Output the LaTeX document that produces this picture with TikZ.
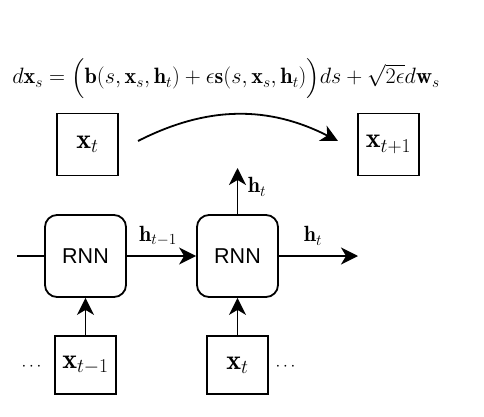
\documentclass[tikz,border=0pt]{standalone}
\usepackage{fix-cm}
\usepackage{amsmath,amssymb}
\usepackage{fontspec}
\newfontfamily\rnnfont{Liberation Sans}
\usetikzlibrary{arrows.meta,calc}
\begin{document}
\begin{tikzpicture}[x=1pt,y=-1pt,
  line width=1.8pt,
  sq/.style={draw,minimum width=61pt,minimum height=62pt,inner sep=0pt,font=\fontsize{28}{33}\selectfont},
  rnn/.style={draw,rounded corners=12pt,minimum width=81pt,minimum height=82pt,inner sep=0pt,font=\rnnfont\fontsize{21.5}{25}\selectfont},
  arr/.style={-{Stealth[length=17pt,width=17pt,inset=5pt]}},
  lab/.style={font=\fontsize{22}{26}\selectfont,inner sep=0pt},
  dots/.style={font=\fontsize{17}{20}\selectfont,inner sep=0pt}]
\useasboundingbox (0,0) rectangle (484,417);
\node[inner sep=0pt,anchor=base,font=\fontsize{22.2}{27}\selectfont] (eq) at (226,84)
  {$d\mathbf{x}_s = \Big(\mathbf{b}(s,\mathbf{x}_s,\mathbf{h}_t)+\epsilon\mathbf{s}(s,\mathbf{x}_s,\mathbf{h}_t)\Big)ds+\sqrt{2\epsilon}d\mathbf{w}_s$};
\node[sq] (xt) at (87.5,144.5) {$\mathbf{x}_t$};
\node[sq] (xtp) at (388.5,144.5) {$\mathbf{x}_{t+1}$};
\node[rnn] (r1) at (85.5,256) {RNN};
\node[rnn] (r2) at (237.5,256) {RNN};
\node[sq,minimum height=58pt] (xb1) at (85.5,365) {$\mathbf{x}_{t-1}$};
\node[sq,minimum height=58pt] (xb2) at (237.5,365) {$\mathbf{x}_t$};
\coordinate (a1) at (138,141);
\coordinate (a2) at (338,141);
\coordinate (hup) at (237.5,168);
\coordinate (lin) at (17,256);
\coordinate (rout) at (358,256);
\draw[arr] (a1) to[bend left=27] (a2);
\draw[arr] (r2.north) -- (hup);
\draw (lin) -- (r1.west);
\draw[arr] (r1.east) -- (r2.west);
\draw[arr] (r2.east) -- (rout);
\draw[arr] (xb1.north) -- (r1.south);
\draw[arr] (xb2.north) -- (r2.south);
\node[lab] (l1) at (158,236) {$\mathbf{h}_{t-1}$};
\node[lab] (l2) at (313,236) {$\mathbf{h}_t$};
\node[lab] (l3) at (257,187) {$\mathbf{h}_t$};
\node[dots] (d1) at (33,367) {$\cdots$};
\node[dots] (d2) at (287,367) {$\cdots$};
\end{tikzpicture}
\end{document}
